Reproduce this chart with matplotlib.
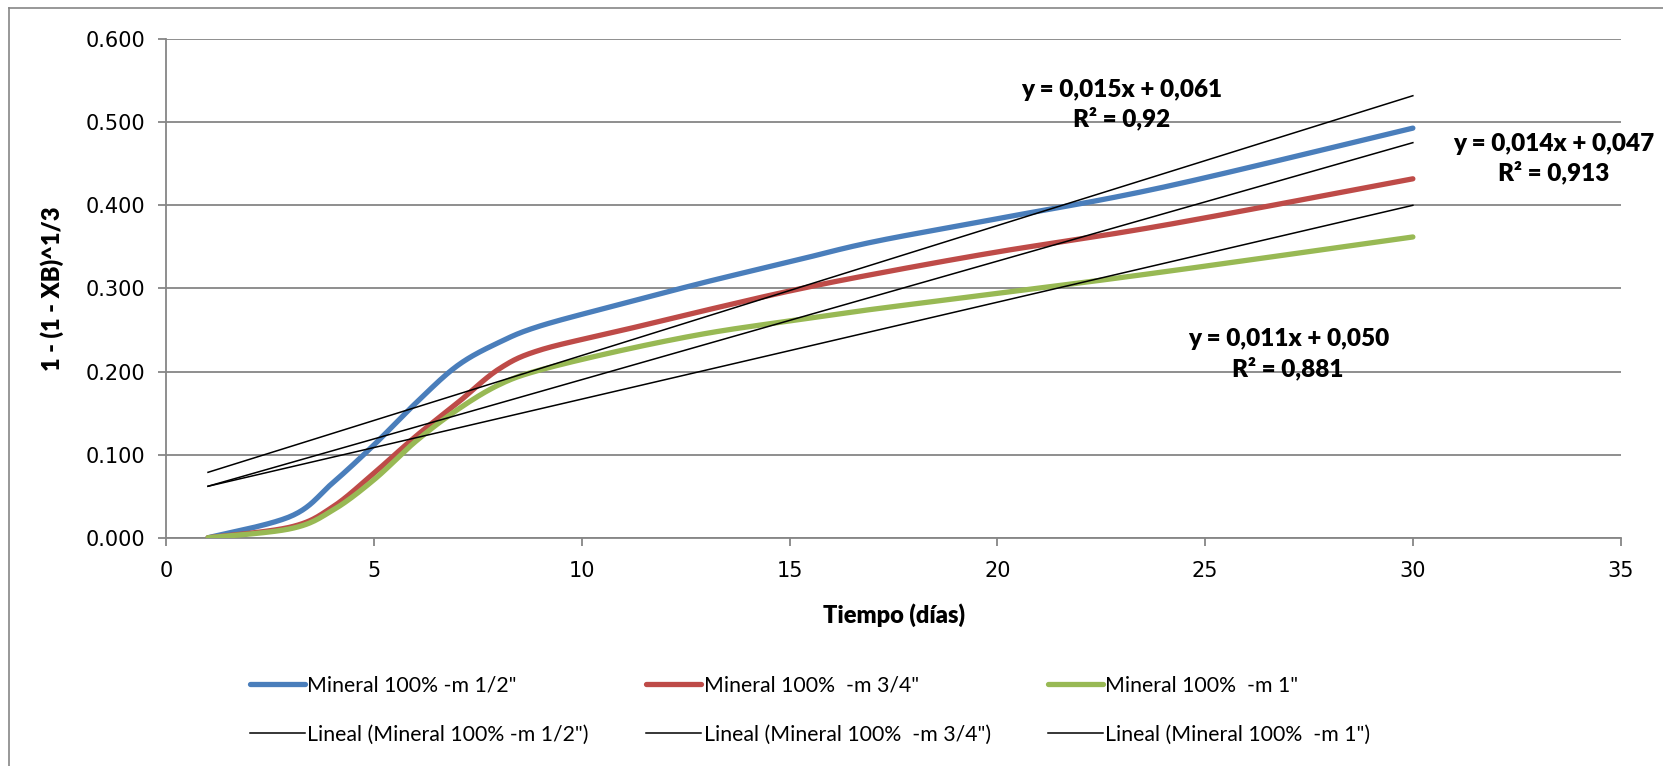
import numpy as np
import matplotlib
matplotlib.use("Agg")
import matplotlib.pyplot as plt
from matplotlib.lines import Line2D

plt.rcParams['font.family'] = ['Lato', 'DejaVu Sans']

days = [1, 3, 4, 5, 6, 7, 8, 9, 11, 13, 15, 17, 20, 24, 30]
m_half = [0.000, 0.026, 0.066, 0.112, 0.162, 0.207, 0.235, 0.255, 0.282, 0.308, 0.332, 0.356, 0.384, 0.422, 0.493]
m_3q = [0.000, 0.013, 0.037, 0.078, 0.122, 0.162, 0.203, 0.226, 0.250, 0.274, 0.297, 0.317, 0.344, 0.376, 0.432]
m_one = [0.000, 0.011, 0.033, 0.070, 0.116, 0.154, 0.184, 0.202, 0.226, 0.246, 0.261, 0.275, 0.294, 0.320, 0.362]

# linear trend lines (slope, intercept) as drawn
trend_slope = [0.01563, 0.01426, 0.01166]
trend_icpt = [0.0631, 0.0477, 0.0503]
trend_text = ["y = 0,015x + 0,061\nR² = 0,92",
              "y = 0,014x + 0,047\nR² = 0,913",
              "y = 0,011x + 0,050\nR² = 0,881"]
trend_pos = [(23.0, 0.521), (33.4, 0.456), (27.0, 0.221)]

names = ['Mineral 100% -m 1/2"', 'Mineral 100%  -m 3/4"', 'Mineral 100%  -m 1"']
colors = ['#4A7EBB', '#BE4B48', '#98B954']


def smooth(xs, ys, n=25):
    # bezier smoothing similar to excel's "smoothed line"
    pts = np.column_stack([xs, ys]).astype(float)
    P = np.vstack([pts[0], pts, pts[-1]])
    t = np.linspace(0, 1, n)[:, None]
    out = []
    for i in range(1, len(P) - 2):
        p0, p1, p2, p3 = P[i - 1], P[i], P[i + 1], P[i + 2]
        c1 = p1 + (p2 - p0) / 6
        c2 = p2 - (p3 - p1) / 6
        out.append((1 - t) ** 3 * p1 + 3 * (1 - t) ** 2 * t * c1 + 3 * (1 - t) * t ** 2 * c2 + t ** 3 * p2)
    return np.vstack(out)


fig = plt.figure(figsize=(16.63, 7.66), dpi=100)
ax = fig.add_axes([0.1001, 0.2980, 0.8744, 0.6508])

grey = '#868686'
ax.set_xlim(0, 35)
ax.set_ylim(0, 0.6)
ax.set_xticks(range(0, 36, 5))
ax.set_yticks(np.arange(0, 0.61, 0.1))
ax.set_yticklabels(['%.3f' % v for v in np.arange(0, 0.61, 0.1)])
ax.yaxis.grid(True, color=grey, lw=1.3)
ax.set_axisbelow(True)
for s in ['top', 'right']:
    ax.spines[s].set_visible(False)
for s in ['left', 'bottom']:
    ax.spines[s].set_color(grey)
    ax.spines[s].set_linewidth(1.3)
ax.tick_params(axis='both', direction='out', length=6, width=1.3, color=grey,
               labelcolor='black')
ax.tick_params(axis='y', pad=9)
ax.tick_params(axis='x', pad=11)
for lab in ax.get_xticklabels() + ax.get_yticklabels():
    lab.set_family('DejaVu Sans')
    lab.set_fontsize(15)

series = [m_half, m_3q, m_one]
handles = []
for vals, c, nm in zip(series, colors, names):
    sm = smooth(days, vals)
    ax.plot(sm[:, 0], sm[:, 1], color=c, lw=3.8, solid_capstyle='round', zorder=3)
    handles.append(Line2D([], [], color=c, lw=3.8, solid_capstyle='round', label=nm))

lin_handles = []
x_tr = np.array([days[0], days[-1]])
for k, (a, b) in enumerate(zip(trend_slope, trend_icpt)):
    ax.plot(x_tr, a * x_tr + b, color='black', lw=1.1, zorder=4)
    lin_handles.append(Line2D([], [], color='black', lw=1.1, label='Lineal (' + names[k] + ')'))

for txt, (px, py) in zip(trend_text, trend_pos):
    ax.text(px, py, txt, ha='center', va='center', fontsize=17.5, fontweight='heavy',
            linespacing=1.3, zorder=5, clip_on=False)

ax.set_xlabel('Tiempo (días)', fontsize=17, fontweight='heavy', labelpad=16)
ax.set_ylabel('1 - (1 - XB)^1/3', fontsize=17, fontweight='heavy', labelpad=16)

order = [handles[0], lin_handles[0], handles[1], lin_handles[1], handles[2], lin_handles[2]]
leg = fig.legend(handles=order, ncol=3, loc='upper left', bbox_to_anchor=(0.1388, 0.143),
                 frameon=False, fontsize=15.3, handlelength=2.6, handletextpad=0.1,
                 columnspacing=2.7, labelspacing=1.38)

# outer chart border (left and top visible)
fig.add_artist(Line2D([9 / 1663, 9 / 1663], [0, 1 - 8 / 766], color=grey, lw=1.2))
fig.add_artist(Line2D([9 / 1663, 1], [1 - 8 / 766, 1 - 8 / 766], color=grey, lw=1.2))

fig.savefig('out.png', dpi=100)
